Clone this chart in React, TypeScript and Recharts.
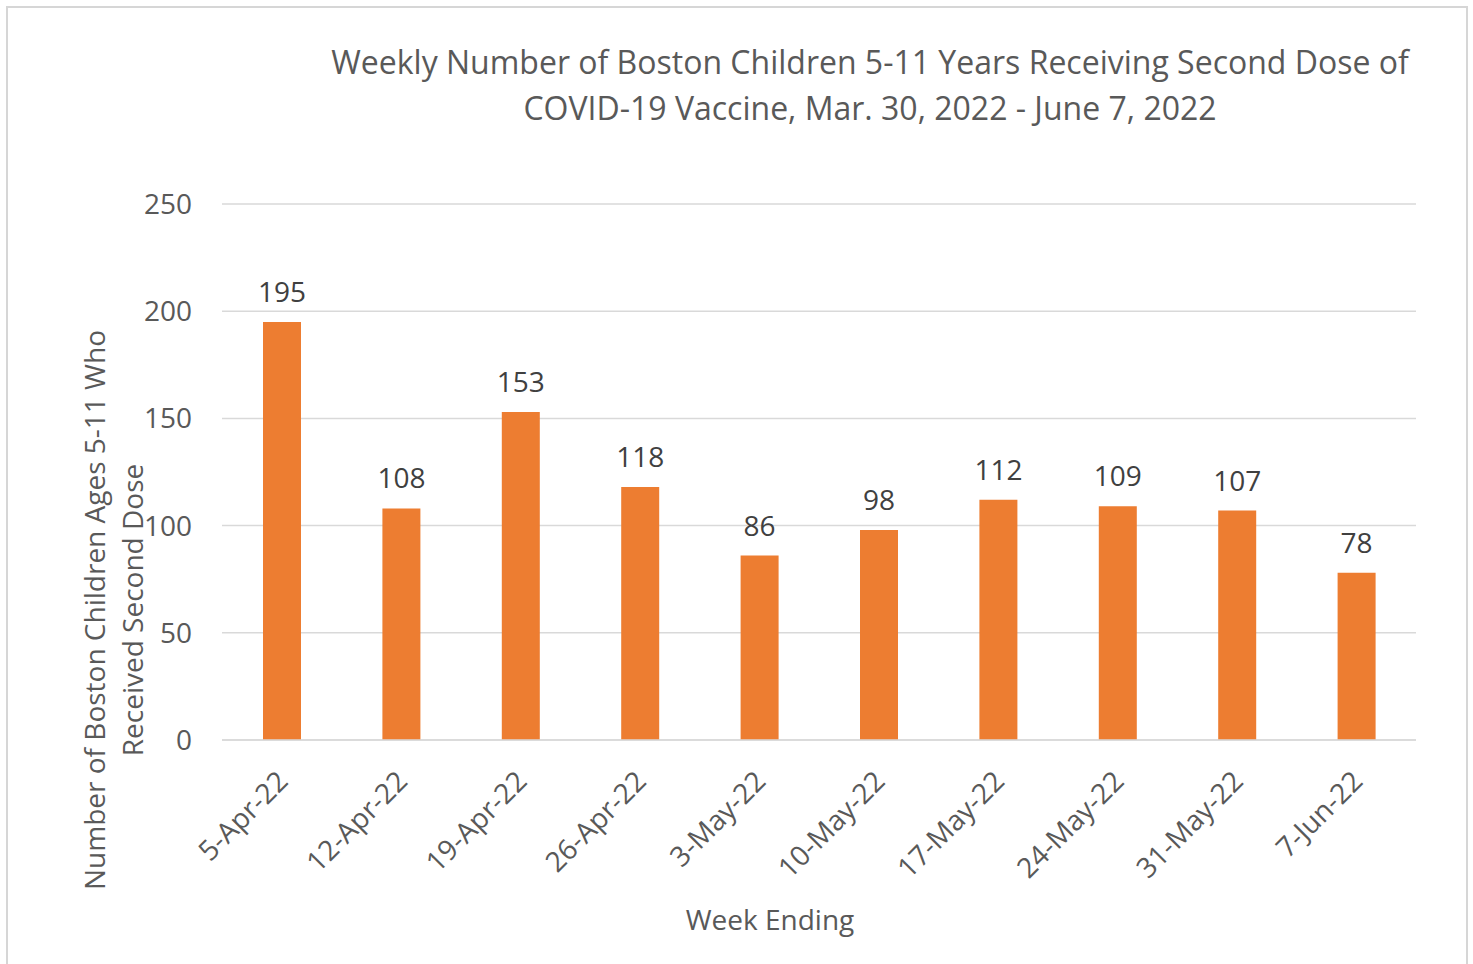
import React from "react";
import { BarChart, Bar, XAxis, YAxis, CartesianGrid, LabelList } from "recharts";

const weeks = [
  "5-Apr-22",
  "12-Apr-22",
  "19-Apr-22",
  "26-Apr-22",
  "3-May-22",
  "10-May-22",
  "17-May-22",
  "24-May-22",
  "31-May-22",
  "7-Jun-22",
];
const secondDoses = [195, 108, 153, 118, 86, 98, 112, 109, 107, 78];
const yTicks = [0, 50, 100, 150, 200, 250];

const FONT = "'Open Sans', sans-serif";
const TEXT = "#595959";

const data = weeks.map((week, i) => ({ week, doses: secondDoses[i] }));

function WeekTick(props: any) {
  const { x, y, payload } = props;
  return (
    <text
      x={x + 8}
      y={y + 35}
      transform={`rotate(-45, ${x + 8}, ${y + 35})`}
      textAnchor="end"
      fontSize={28}
      fontFamily={FONT}
      fill={TEXT}
    >
      {payload.value}
    </text>
  );
}

function YTitle(props: any) {
  const { viewBox } = props;
  const cx = 0;
  const cy = viewBox.y + viewBox.height / 2 + 138;
  return (
    <text
      transform={`rotate(-90, ${cx}, ${cy})`}
      x={cx}
      y={cy}
      textAnchor="middle"
      fontSize={28}
      fontFamily={FONT}
      fill={TEXT}
    >
      <tspan x={cx} dy={97}>Number of Boston Children  Ages 5-11 Who</tspan>
      <tspan x={cx} dy={38}>Received Second  Dose</tspan>
    </text>
  );
}

function XTitle(props: any) {
  const { viewBox } = props;
  const cx = viewBox.x + viewBox.width / 2 - 49;
  return (
    <text x={cx} y={922} textAnchor="middle" fontSize={28} fontFamily={FONT} fill={TEXT}>
      Week Ending
    </text>
  );
}

export default function App() {
  return (
    <div
      style={{
        position: "absolute",
        left: 6,
        top: 6,
        width: 1458,
        height: 970,
        border: "2px solid #d6d6d6",
        background: "#fff",
        fontFamily: FONT,
      }}
    >
      <div
        style={{
          position: "absolute",
          left: 0,
          width: 1724,
          top: 31,
          textAlign: "center",
          fontSize: 32,
          lineHeight: "46px",
          color: TEXT,
        }}
      >
        Weekly Number of Boston Children 5-11 Years Receiving Second Dose of
        <br />
        COVID-19 Vaccine, Mar. 30, 2022 - June 7, 2022
      </div>
      <BarChart
        width={1458}
        height={960}
        data={data}
        margin={{ top: 196, right: 50, bottom: 0, left: 0 }}
      >
        <CartesianGrid vertical={false} stroke="#d9d9d9" strokeWidth={1.5} />
        <XAxis
          dataKey="week"
          height={228}
          interval={0}
          tickLine={false}
          axisLine={{ stroke: "#d9d9d9", strokeWidth: 1.5 }}
          tick={<WeekTick />}
          label={<XTitle />}
        />
        <YAxis
          width={214}
          domain={[0, 250]}
          ticks={yTicks}
          axisLine={false}
          tickLine={false}
          tickSize={0}
          tickMargin={30}
          tick={{ fontSize: 28, fill: TEXT, fontFamily: FONT }}
          label={<YTitle />}
        />
        <Bar dataKey="doses" fill="#ED7D31" barSize={38} isAnimationActive={false}>
          <LabelList
            dataKey="doses"
            position="top"
            offset={20}
            fontSize={28}
            fill="#404040"
            fontFamily={FONT}
          />
        </Bar>
      </BarChart>
    </div>
  );
}
